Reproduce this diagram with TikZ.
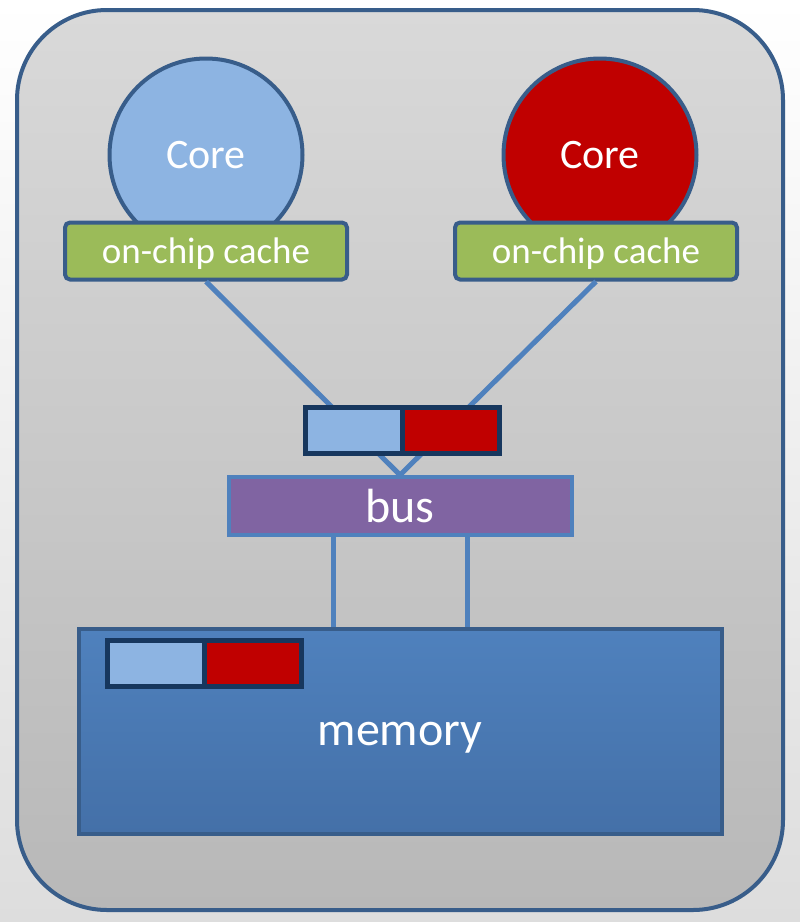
\documentclass[tikz,border=0pt]{standalone}
\usepackage{fontspec}
\setmainfont{Carlito}
\usetikzlibrary{positioning}
\definecolor{lineblue}{HTML}{4F81BD}
\definecolor{edgeblue}{HTML}{385D8A}
\definecolor{coreblue}{HTML}{8DB4E2}
\definecolor{corered}{HTML}{C00000}
\definecolor{cachegreen}{HTML}{9BBB59}
\definecolor{busviolet}{HTML}{8064A2}
\definecolor{navy}{HTML}{17375E}
\definecolor{memtop}{HTML}{4F81BD}
\definecolor{membottom}{HTML}{4470A8}
\definecolor{chiptop}{HTML}{D9D9D9}
\definecolor{chipbottom}{HTML}{B8B8B8}
\definecolor{pagegray}{HTML}{DDDDDD}

\begin{document}
\begin{tikzpicture}[x=1pt, y=-1pt,
  core/.style = {draw=edgeblue, line width=4pt, circle, minimum size=193pt, inner sep=0pt, text=white, font=\fontsize{42}{42}\selectfont},
  cache/.style = {draw=edgeblue, line width=4pt, fill=cachegreen, rounded corners=5pt, minimum width=282pt, minimum height=57pt, text=white, font=\fontsize{37}{37}\selectfont},
  half/.style = {draw=navy, line width=5pt, minimum width=97pt, minimum height=46pt, inner sep=0pt, outer sep=0pt},
  wire/.style = {draw=lineblue, line width=5pt}]
    \useasboundingbox (0,0) rectangle (800,922);
    \fill[top color=white, middle color=white, bottom color=pagegray] (0,0) rectangle (800,922);
    \draw[edgeblue, line width=4pt, rounded corners=90pt, top color=chiptop, middle color=chiptop, bottom color=chipbottom] (17,10) rectangle (783,910);

    \node[core, fill=coreblue] (core1) at (206,155) {Core};
    \node[core, fill=corered] (core2) at (600,155) {Core};
    \node[cache, text depth=0pt] (cache1) at (206,251) {on-chip cache};
    \node[cache, text depth=0pt] (cache2) at (596,251) {on-chip cache};

    \node[draw=lineblue, line width=4pt, fill=busviolet, minimum width=343pt, minimum height=58pt, text=white, text depth=0pt, font=\fontsize{48}{48}\selectfont] (bus) at (400,506) {bus};
    \draw[wire] (cache1.south) -- (bus.north);
    \draw[wire] (cache2.south) -- (bus.north);

    \node[half, fill=coreblue] (buf1) at (354,430) {};
    \node[half, fill=corered, right=0pt of buf1] (buf2) {};

    \node[draw=edgeblue, line width=4pt, top color=memtop, bottom color=membottom, minimum width=643pt, minimum height=205pt, text=white, text depth=0pt, font=\fontsize{48}{48}\selectfont] (mem) at (400,731) {\raisebox{-5pt}{memory}};
    \draw[wire] ([xshift=-67pt]bus.south) -- ([xshift=-67pt]bus.south |- mem.north);
    \draw[wire] ([xshift=67pt]bus.south) -- ([xshift=67pt]bus.south |- mem.north);

    \node[half, fill=coreblue] (mbuf1) at (156,663) {};
    \node[half, fill=corered, right=0pt of mbuf1] (mbuf2) {};
\end{tikzpicture}
\end{document}
